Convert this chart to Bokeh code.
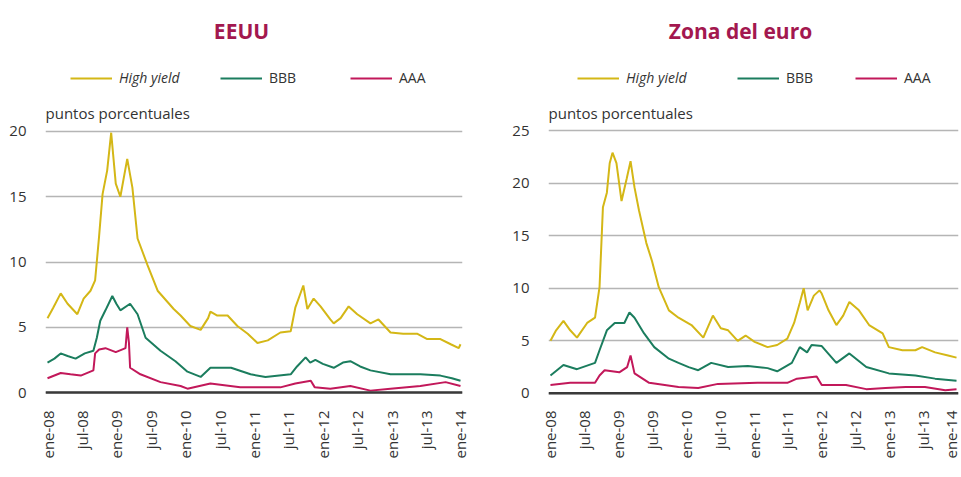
import math
from bokeh.plotting import figure
from bokeh.layouts import row
from bokeh.models import (Range1d, FixedTicker, Legend, LegendItem, Label, Span)
from bokeh.embed import file_html
from bokeh.resources import INLINE

# ---------------- data (months since ene-08) ----------------
tick_labels = ["ene-08", "jul-08", "ene-09", "jul-09", "ene-10", "jul-10", "ene-11",
               "jul-11", "ene-12", "jul-12", "ene-13", "jul-13", "ene-14"]
tick_months = [0, 6, 12, 18, 24, 30, 36, 42, 48, 54, 60, 66, 72]

series_names = ["High yield", "BBB", "AAA"]

us_hy_m = [0, 1, 2.3, 3.5, 5.2, 6.3, 7.5, 8.3, 9.0, 9.6, 10.4, 11.1, 11.9, 12.7, 13.9, 14.8,
           15.7, 17.4, 19.2, 22.0, 23.2, 24.9, 26.7, 28.0, 28.4, 29.6, 31.4, 33.1, 34.9, 36.6,
           38.4, 40.6, 42.4, 43.2, 44.6, 45.3, 46.4, 47.6, 49.3, 49.9, 51.1, 52.5, 54.0, 56.3,
           57.7, 59.8, 62.0, 64.5, 66.2, 68.5, 70.3, 71.7, 72.0]
us_hy_v = [5.7, 6.5, 7.6, 6.8, 6.0, 7.2, 7.8, 8.6, 12.0, 15.2, 17.0, 19.9, 16.0, 15.0, 17.9, 15.7,
           11.8, 9.8, 7.8, 6.4, 5.9, 5.1, 4.8, 5.7, 6.2, 5.9, 5.9, 5.1, 4.5, 3.8,
           4.0, 4.6, 4.7, 6.5, 8.2, 6.4, 7.2, 6.6, 5.6, 5.3, 5.7, 6.6, 6.0, 5.3,
           5.6, 4.6, 4.5, 4.5, 4.1, 4.1, 3.7, 3.4, 3.7]

us_bbb_m = [0, 1.2, 2.3, 3.5, 4.9, 6.5, 8.0, 8.6, 9.2, 10.1, 11.3, 12.0, 12.7, 14.4, 15.7, 17.1,
            19.7, 22.3, 24.4, 26.7, 28.4, 32.0, 35.4, 38.0, 42.4, 43.5, 45.0, 45.8, 46.7, 48.0,
            49.9, 51.5, 52.8, 54.5, 56.3, 59.8, 65.0, 68.5, 70.5, 72.0]
us_bbb_v = [2.3, 2.6, 3.0, 2.8, 2.6, 3.0, 3.2, 4.2, 5.5, 6.3, 7.4, 6.8, 6.3, 6.8, 6.0, 4.2,
            3.2, 2.4, 1.6, 1.2, 1.9, 1.9, 1.4, 1.2, 1.4, 2.0, 2.7, 2.3, 2.5, 2.2,
            1.9, 2.3, 2.4, 2.0, 1.7, 1.4, 1.4, 1.3, 1.1, 0.9]

us_aaa_m = [0, 2.3, 4.0, 5.8, 8.0, 8.3, 9.0, 10.1, 11.9, 13.6, 13.9, 14.2, 14.4, 16.2, 19.7,
            23.2, 24.4, 28.4, 33.6, 40.6, 43.2, 45.9, 46.6, 49.3, 52.8, 56.3, 59.8, 65.0, 69.4, 72.0]
us_aaa_v = [1.1, 1.5, 1.4, 1.3, 1.7, 3.0, 3.3, 3.4, 3.1, 3.4, 5.0, 3.8, 1.9, 1.4, 0.8,
            0.5, 0.3, 0.7, 0.4, 0.4, 0.7, 0.9, 0.4, 0.3, 0.5, 0.15, 0.3, 0.5, 0.8, 0.5]

ea_hy_m = [0, 1.0, 2.3, 3.5, 4.7, 6.5, 7.9, 8.7, 9.3, 10.0, 10.5, 11.0, 11.7, 12.6, 13.5, 14.2,
           14.9, 15.7, 17.0, 18.0, 19.2, 21.0, 22.7, 25.0, 27.1, 28.8, 30.2, 31.5, 33.2, 34.6,
           36.2, 38.5, 40.2, 42.0, 43.2, 44.2, 44.9, 45.6, 46.7, 47.7, 48.1, 49.3, 50.7, 51.9,
           53.0, 54.7, 56.5, 58.9, 60.0, 62.4, 64.7, 65.9, 68.2, 70.5, 72.0]
ea_hy_v = [5.0, 6.0, 6.9, 6.0, 5.3, 6.7, 7.2, 10.1, 17.7, 19.1, 21.9, 22.9, 21.9, 18.3, 20.4, 22.1,
           19.6, 17.4, 14.3, 12.6, 10.1, 7.9, 7.2, 6.5, 5.3, 7.4, 6.2, 6.0, 5.0, 5.5,
           4.9, 4.4, 4.6, 5.2, 6.7, 8.6, 10.0, 7.9, 9.3, 9.8, 9.5, 7.9, 6.5, 7.4,
           8.7, 7.9, 6.5, 5.7, 4.4, 4.1, 4.1, 4.4, 3.9, 3.6, 3.4]

ea_bbb_m = [0, 2.3, 4.7, 7.9, 8.7, 10.0, 11.4, 13.1, 14.0, 14.9, 16.6, 18.4, 21.0, 22.7, 24.5,
            26.2, 28.5, 31.5, 35.0, 38.5, 40.2, 42.8, 44.2, 45.5, 46.3, 48.1, 50.7, 53.0, 56.0,
            60.0, 64.7, 68.2, 72.0]
ea_bbb_v = [1.7, 2.7, 2.3, 2.9, 4.1, 6.0, 6.7, 6.7, 7.7, 7.2, 5.7, 4.4, 3.3, 2.9, 2.5,
            2.2, 2.9, 2.5, 2.6, 2.4, 2.1, 2.9, 4.4, 3.9, 4.6, 4.5, 2.9, 3.8, 2.5,
            1.9, 1.7, 1.4, 1.2]

ea_aaa_m = [0, 3.5, 7.9, 8.7, 9.6, 12.2, 13.6, 14.2, 14.9, 17.5, 22.7, 26.2, 29.7, 36.7, 42.0,
            43.7, 47.2, 48.1, 52.4, 56.0, 59.4, 63.0, 66.4, 70.0, 72.0]
ea_aaa_v = [0.8, 1.0, 1.0, 1.7, 2.2, 2.0, 2.5, 3.6, 1.9, 1.0, 0.6, 0.5, 0.9, 1.0, 1.0,
            1.4, 1.6, 0.8, 0.8, 0.4, 0.5, 0.6, 0.6, 0.3, 0.4]

# ---------------- styles ----------------
COL_HY = "#d4b716"
COL_BBB = "#1b7d5e"
COL_AAA = "#c2185a"
TITLE_COL = "#a3184f"
FONT = "Open Sans"
TXT = "#333333"

FH = 381          # frame height (includes header zone above the data area)
DATA_H = 269      # height in px of the data area (from -0.3 to y_max + 0.3)
TOP = 15          # page y of frame top


def make_panel(title, y_max, series, frame_w, border_left, border_right,
               leg_x, title_x):
    lo, hi = -0.3, y_max + 0.3
    top = hi + (hi - lo) * (FH - DATA_H) / DATA_H
    p = figure(frame_width=frame_w, frame_height=FH,
               x_range=Range1d(-0.35, 72.35), y_range=Range1d(lo, top),
               output_backend="svg", toolbar_location=None,
               min_border_left=border_left, min_border_right=border_right,
               min_border_top=TOP, min_border_bottom=69)
    p.outline_line_color = None
    p.background_fill_color = "white"
    p.xgrid.grid_line_color = None
    p.ygrid.grid_line_color = "#b5b5b5"
    p.ygrid.grid_line_width = 1.5
    p.yaxis.ticker = FixedTicker(ticks=list(range(0, int(y_max) + 1, 5)))
    p.xaxis.ticker = FixedTicker(ticks=tick_months)
    p.xaxis.major_label_overrides = {m: lab for m, lab in zip(tick_months, tick_labels)}
    p.xaxis.major_label_orientation = math.pi / 2
    for ax in (p.xaxis, p.yaxis):
        ax.axis_line_color = None
        ax.major_tick_line_color = None
        ax.minor_tick_line_color = None
        ax.major_label_text_font = FONT
        ax.major_label_text_font_size = "15px"
        ax.major_label_text_color = TXT
    p.yaxis.major_label_standoff = 13
    p.xaxis.major_label_standoff = 8

    p.add_layout(Span(location=0, dimension="width", line_color="#3a3a3a", line_width=2.5))

    renderers = []
    for (mx, vy), col in zip(series, [COL_HY, COL_BBB, COL_AAA]):
        r = p.line(mx, vy, line_color=col, line_width=2)
        renderers.append(r)

    # one legend per series, so that only "High yield" is in italics
    leg_common = dict(orientation="horizontal", border_line_color=None,
                      background_fill_alpha=0, padding=0, margin=0,
                      glyph_width=42, glyph_height=16, label_standoff=7,
                      label_text_font=FONT, label_text_font_size="14px",
                      label_text_color=TXT)
    leg_y = FH - 72
    for i, (name, r) in enumerate(zip(series_names, renderers)):
        style = "italic" if i == 0 else "normal"
        p.add_layout(Legend(items=[LegendItem(label=name, renderers=[r])],
                            location=(leg_x[i], leg_y), label_text_font_style=style,
                            **leg_common))

    p.add_layout(Label(x=0, y=FH - (122 - TOP), x_units="screen", y_units="screen",
                       text="puntos porcentuales", text_font=FONT, text_font_size="15px",
                       text_color=TXT, text_baseline="bottom", text_align="left"))
    p.add_layout(Label(x=title_x, y=FH - (30 - TOP), x_units="screen", y_units="screen",
                       text=title, text_font=FONT, text_font_size="21px",
                       text_font_style="bold", text_color=TITLE_COL,
                       text_baseline="middle", text_align="center"))
    return p


p1 = make_panel("EEUU", 20,
                [(us_hy_m, us_hy_v), (us_bbb_m, us_bbb_v), (us_aaa_m, us_aaa_v)],
                frame_w=417, border_left=45, border_right=18,
                leg_x=(25, 175, 305), title_x=196)
p2 = make_panel("Zona del euro", 25,
                [(ea_hy_m, ea_hy_v), (ea_bbb_m, ea_bbb_v), (ea_aaa_m, ea_aaa_v)],
                frame_w=410, border_left=68, border_right=2,
                leg_x=(29, 189, 307), title_x=192)

layout = row(p1, p2)
open("out.html", "w").write(file_html(layout, INLINE))
